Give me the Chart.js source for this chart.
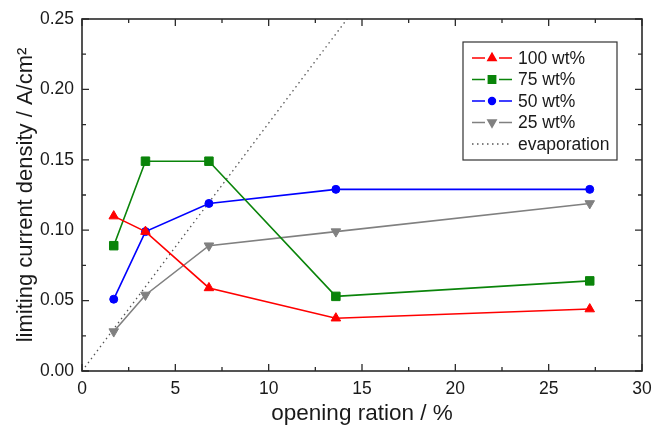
<!DOCTYPE html>
<html>
<head>
<meta charset="utf-8">
<script src="https://cdn.jsdelivr.net/npm/chart.js@4"></script>
<style>
  html, body { margin: 0; padding: 0; background: #fff; }
  #wrap { width: 655px; height: 427px; }
</style>
</head>
<body>
<div id="wrap"><canvas id="c" width="655" height="427"></canvas></div>
<script>
// Opening ratio (%) at which each membrane was measured
const openingRatio = [1.7, 3.4, 6.8, 13.6, 27.2];

// Limiting current density (A/cm²) per concentration
const wt100 = [0.110, 0.099, 0.059, 0.0375, 0.044];
const wt75  = [0.089, 0.149, 0.149, 0.053, 0.064];
const wt50  = [0.051, 0.099, 0.119, 0.129, 0.129];
const wt25  = [0.028, 0.054, 0.089, 0.099, 0.119];

// Evaporation limit: straight line through the origin
const evapX = [0, 14.2];
const evapY = [0, 0.25];

const seriesNames = ['100 wt%', '75 wt%', '50 wt%', '25 wt%', 'evaporation'];

const FONT = '"Liberation Sans", Arial, sans-serif';
const INK = '#1a1a1a';

function pts(xs, ys) { return xs.map((x, i) => ({ x: x, y: ys[i] })); }

function series(label, data, color, style, radius, rotation) {
  return {
    label: label,
    data: data,
    showLine: true,
    borderColor: color,
    backgroundColor: color,
    borderWidth: 1.6,
    pointStyle: style,
    pointRadius: radius,
    pointHoverRadius: radius,
    pointRotation: rotation || 0,
    pointBorderWidth: 1,
    pointBorderColor: color,
    pointBackgroundColor: color
  };
}

// Frame with inward major/minor ticks on all four sides
const framePlugin = {
  id: 'frame',
  afterDatasetsDraw(chart) {
    const { ctx, chartArea: a, scales: { x, y } } = chart;
    ctx.save();
    ctx.strokeStyle = '#2a2a2a';
    ctx.lineWidth = 1.6;
    ctx.strokeRect(a.left, a.top, a.right - a.left, a.bottom - a.top);
    ctx.lineWidth = 1.3;
    ctx.beginPath();
    for (let k = 0; k <= 12; k++) {
      const v = k * 2.5;
      const px = x.getPixelForValue(v);
      const len = k % 2 === 0 ? 7 : 4;
      ctx.moveTo(px, a.bottom); ctx.lineTo(px, a.bottom - len);
      ctx.moveTo(px, a.top); ctx.lineTo(px, a.top + len);
    }
    for (let k = 0; k <= 10; k++) {
      const v = k * 0.025;
      const py = y.getPixelForValue(v);
      const len = k % 2 === 0 ? 7 : 4;
      ctx.moveTo(a.left, py); ctx.lineTo(a.left + len, py);
      ctx.moveTo(a.right, py); ctx.lineTo(a.right - len, py);
    }
    ctx.stroke();
    ctx.restore();
  }
};

// Boxed legend with line–marker–line samples
const legendPlugin = {
  id: 'boxLegend',
  afterDraw(chart) {
    const { ctx, chartArea: a } = chart;
    const boxW = 154, boxH = 118;
    const bx = a.right - 25 - boxW, by = a.top + 23;
    ctx.save();
    ctx.fillStyle = '#fff';
    ctx.fillRect(bx, by, boxW, boxH);
    ctx.strokeStyle = '#333';
    ctx.lineWidth = 1.2;
    ctx.strokeRect(bx, by, boxW, boxH);
    const rowH = 21.5;
    chart.data.datasets.forEach((ds, i) => {
      const cy = by + 16 + i * rowH;
      const x0 = bx + 9, x1 = bx + 49, xm = (x0 + x1) / 2;
      ctx.strokeStyle = ds.borderColor;
      ctx.lineWidth = ds.borderWidth;
      ctx.setLineDash(ds.borderDash || []);
      ctx.beginPath();
      if (ds.pointRadius > 0) {
        ctx.moveTo(x0, cy); ctx.lineTo(xm - 7, cy);
        ctx.moveTo(xm + 7, cy); ctx.lineTo(x1, cy);
      } else {
        ctx.moveTo(x0, cy); ctx.lineTo(x1, cy);
      }
      ctx.stroke();
      ctx.setLineDash([]);
      if (ds.pointRadius > 0) {
        ctx.fillStyle = ds.backgroundColor;
        Chart.helpers.drawPoint(ctx, {
          pointStyle: ds.pointStyle,
          rotation: ds.pointRotation,
          radius: ds.pointRadius * 0.85,
          borderWidth: 1
        }, xm, cy);
      }
      ctx.fillStyle = INK;
      ctx.font = '17.5px ' + FONT;
      ctx.textBaseline = 'middle';
      ctx.textAlign = 'left';
      ctx.fillText(ds.label, bx + 55, cy + 1);
    });
    ctx.restore();
  }
};

new Chart(document.getElementById('c'), {
  type: 'scatter',
  data: {
    datasets: [
      series(seriesNames[0], pts(openingRatio, wt100), '#ff0000', 'triangle', 5.5),
      series(seriesNames[1], pts(openingRatio, wt75), '#0a840a', 'rect', 6),
      series(seriesNames[2], pts(openingRatio, wt50), '#0000ff', 'circle', 4),
      series(seriesNames[3], pts(openingRatio, wt25), '#808080', 'triangle', 5.5, 180),
      {
        label: seriesNames[4],
        data: pts(evapX, evapY),
        showLine: true,
        borderColor: '#555',
        borderWidth: 1.3,
        borderDash: [1.5, 3.5],
        pointRadius: 0,
        pointHoverRadius: 0
      }
    ]
  },
  options: {
    responsive: false,
    animation: false,
    events: [],
    layout: { padding: { left: 0, top: 19, right: 0, bottom: 0 } },
    plugins: { legend: { display: false }, tooltip: { enabled: false } },
    scales: {
      x: {
        type: 'linear',
        min: 0, max: 30,
        grid: { display: false },
        border: { display: false },
        ticks: { stepSize: 5, color: INK, font: { family: FONT, size: 17.5 }, padding: 0 },
        title: {
          display: true,
          text: 'opening ration / %',
          color: INK,
          font: { family: FONT, size: 22.5 },
          padding: { top: 0, bottom: 0 }
        },
        afterFit(scale) { scale.height = 56; scale.paddingRight = 13; }
      },
      y: {
        type: 'linear',
        min: 0, max: 0.25,
        grid: { display: false },
        border: { display: false },
        ticks: {
          stepSize: 0.05,
          color: INK,
          font: { family: FONT, size: 17.5 },
          padding: 0,
          callback: v => v.toFixed(2)
        },
        title: {
          display: true,
          text: 'limiting current density / A/cm²',
          color: INK,
          font: { family: FONT, size: 22 },
          padding: { top: 13, bottom: 0 }
        },
        afterFit(scale) { scale.width = 82; }
      }
    }
  },
  plugins: [framePlugin, legendPlugin]
});
</script>
</body>
</html>
